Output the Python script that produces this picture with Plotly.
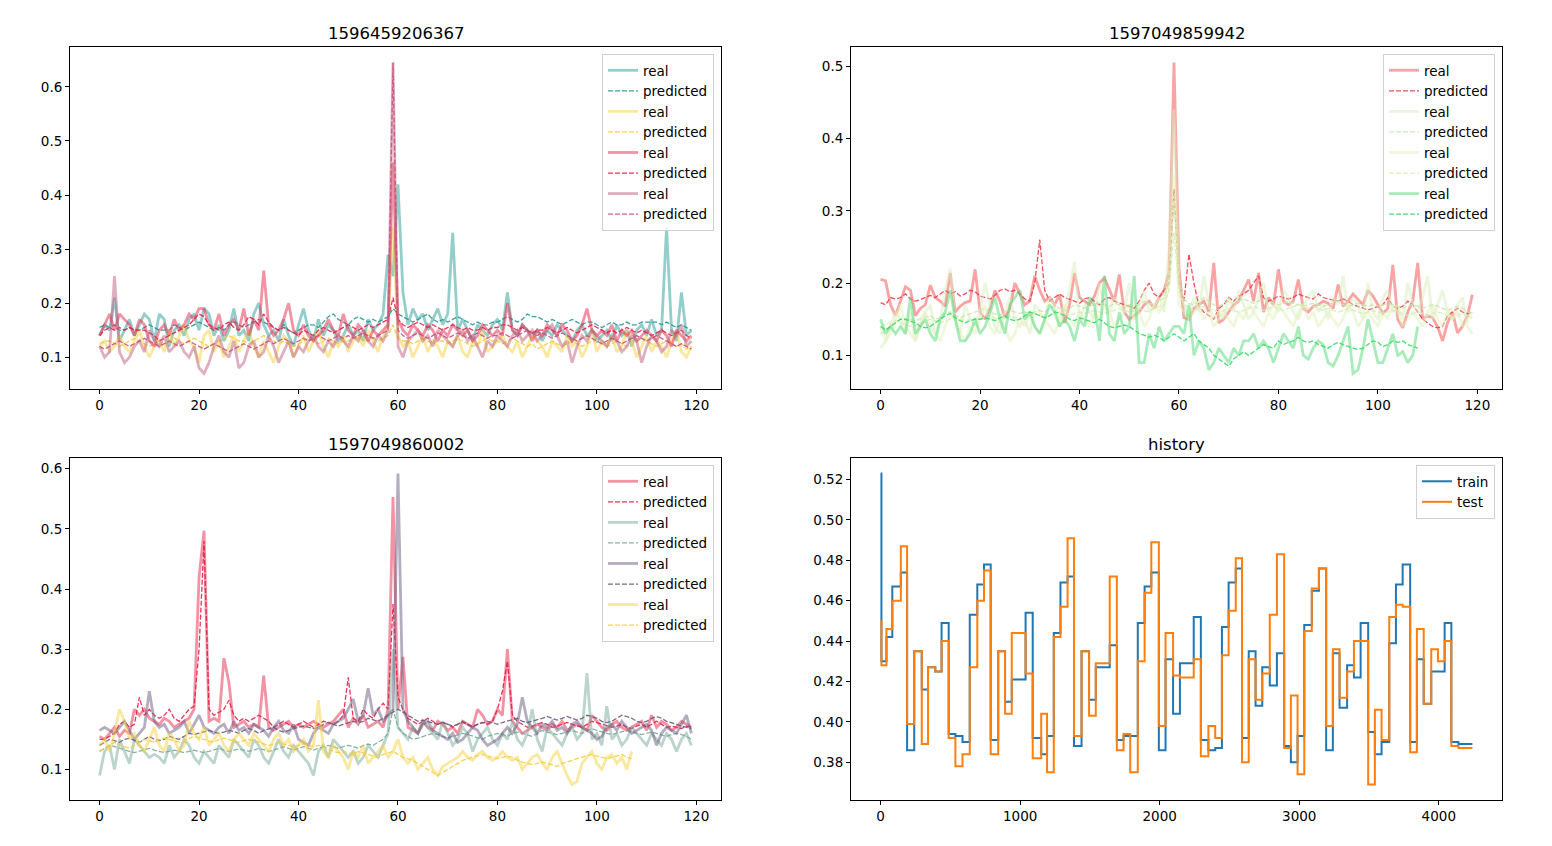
import plotly.graph_objects as go

# ---------------- data ----------------
idx120 = list(range(120))

# Panel 1: 1596459206367
p1_teal_real = [0.14,0.16,0.15,0.21,0.13,0.15,0.17,0.14,0.16,0.18,
0.17,0.13,0.18,0.17,0.12,0.15,0.16,0.14,0.17,0.18,
0.15,0.19,0.18,0.14,0.16,0.13,0.15,0.19,0.14,0.15,
0.13,0.18,0.20,0.16,0.14,0.15,0.13,0.17,0.14,0.12,
0.16,0.19,0.15,0.13,0.17,0.14,0.16,0.15,0.13,0.14,
0.16,0.14,0.15,0.13,0.17,0.15,0.16,0.18,0.29,0.25,
0.42,0.22,0.16,0.19,0.17,0.18,0.15,0.17,0.19,0.16,
0.18,0.33,0.15,0.17,0.15,0.13,0.16,0.15,0.14,0.16,
0.17,0.15,0.22,0.15,0.14,0.16,0.15,0.14,0.15,0.13,
0.15,0.14,0.16,0.15,0.14,0.13,0.15,0.16,0.14,0.15,
0.13,0.14,0.15,0.13,0.16,0.14,0.15,0.12,0.15,0.16,
0.14,0.17,0.14,0.15,0.34,0.15,0.13,0.22,0.14,0.15]
p1_teal_pred = [0.155,0.16,0.155,0.16,0.15,0.15,0.155,0.15,0.15,0.155,
0.16,0.155,0.15,0.15,0.15,0.16,0.155,0.15,0.155,0.16,
0.165,0.16,0.155,0.15,0.155,0.15,0.16,0.165,0.16,0.155,
0.16,0.165,0.17,0.165,0.16,0.155,0.15,0.16,0.15,0.145,
0.15,0.155,0.16,0.16,0.155,0.165,0.175,0.18,0.17,0.165,
0.16,0.17,0.175,0.17,0.165,0.17,0.165,0.17,0.175,0.19,
0.18,0.175,0.17,0.165,0.17,0.175,0.18,0.17,0.165,0.17,
0.165,0.17,0.175,0.17,0.165,0.16,0.165,0.16,0.16,0.165,
0.165,0.17,0.175,0.17,0.165,0.17,0.18,0.175,0.175,0.17,
0.165,0.17,0.165,0.16,0.165,0.17,0.165,0.16,0.165,0.165,
0.16,0.155,0.16,0.165,0.16,0.16,0.165,0.16,0.16,0.165,
0.165,0.165,0.165,0.16,0.165,0.16,0.155,0.16,0.155,0.15]
p1_yellow_real = [0.12,0.13,0.11,0.12,0.14,0.12,0.11,0.13,0.15,0.12,
0.10,0.12,0.13,0.11,0.15,0.12,0.14,0.16,0.13,0.12,
0.09,0.14,0.15,0.11,0.13,0.10,0.12,0.14,0.11,0.13,
0.15,0.12,0.10,0.13,0.11,0.09,0.12,0.14,0.13,0.10,
0.12,0.14,0.11,0.13,0.15,0.12,0.10,0.13,0.12,0.14,
0.11,0.13,0.14,0.12,0.15,0.13,0.11,0.14,0.16,0.34,
0.14,0.12,0.13,0.10,0.12,0.14,0.11,0.13,0.12,0.10,
0.13,0.12,0.14,0.11,0.10,0.13,0.12,0.15,0.11,0.12,
0.13,0.14,0.12,0.11,0.13,0.10,0.12,0.14,0.13,0.12,
0.10,0.13,0.12,0.11,0.14,0.12,0.13,0.10,0.12,0.15,
0.11,0.13,0.12,0.14,0.11,0.12,0.15,0.13,0.10,0.12,
0.14,0.11,0.13,0.12,0.10,0.13,0.15,0.11,0.10,0.12]
p1_yellow_pred = [0.125,0.13,0.13,0.125,0.12,0.125,0.13,0.135,0.13,0.125,
0.12,0.125,0.13,0.125,0.13,0.135,0.13,0.125,0.13,0.135,
0.13,0.125,0.12,0.125,0.13,0.135,0.14,0.135,0.13,0.13,
0.125,0.13,0.135,0.14,0.135,0.13,0.125,0.13,0.125,0.12,
0.125,0.13,0.135,0.13,0.125,0.13,0.135,0.13,0.125,0.13,
0.13,0.135,0.14,0.135,0.13,0.135,0.13,0.135,0.14,0.16,
0.135,0.13,0.13,0.125,0.13,0.135,0.13,0.125,0.13,0.13,
0.125,0.13,0.135,0.13,0.125,0.12,0.125,0.13,0.135,0.13,
0.13,0.125,0.13,0.135,0.13,0.125,0.12,0.125,0.115,0.12,
0.125,0.13,0.125,0.12,0.125,0.13,0.125,0.12,0.125,0.13,
0.13,0.125,0.12,0.125,0.13,0.125,0.12,0.125,0.13,0.135,
0.13,0.125,0.12,0.125,0.13,0.125,0.12,0.125,0.115,0.12]
p1_red_real = [0.14,0.16,0.18,0.15,0.18,0.17,0.16,0.14,0.17,0.16,
0.13,0.12,0.15,0.16,0.14,0.17,0.15,0.16,0.18,0.17,
0.19,0.19,0.16,0.15,0.18,0.14,0.16,0.17,0.15,0.19,
0.14,0.17,0.15,0.26,0.16,0.14,0.15,0.17,0.20,0.15,
0.14,0.16,0.14,0.13,0.14,0.15,0.17,0.15,0.14,0.18,
0.15,0.14,0.16,0.15,0.13,0.15,0.14,0.15,0.16,0.46,
0.17,0.15,0.14,0.16,0.15,0.14,0.16,0.15,0.13,0.15,
0.14,0.16,0.15,0.14,0.15,0.13,0.14,0.16,0.15,0.14,
0.15,0.14,0.20,0.15,0.14,0.16,0.15,0.13,0.15,0.14,
0.16,0.15,0.14,0.16,0.15,0.13,0.14,0.16,0.19,0.15,
0.14,0.15,0.14,0.16,0.13,0.15,0.14,0.15,0.13,0.14,
0.15,0.14,0.13,0.15,0.14,0.12,0.15,0.14,0.13,0.14]
p1_red_pred = [0.14,0.15,0.155,0.15,0.155,0.15,0.155,0.15,0.15,0.15,
0.145,0.14,0.13,0.135,0.14,0.145,0.15,0.155,0.16,0.17,
0.18,0.175,0.16,0.155,0.15,0.16,0.165,0.155,0.15,0.16,
0.175,0.17,0.16,0.18,0.165,0.155,0.15,0.155,0.15,0.145,
0.14,0.15,0.145,0.14,0.15,0.155,0.15,0.145,0.15,0.155,
0.16,0.155,0.15,0.155,0.16,0.155,0.16,0.165,0.17,0.21,
0.17,0.16,0.155,0.16,0.165,0.16,0.155,0.16,0.155,0.15,
0.155,0.16,0.155,0.15,0.155,0.15,0.15,0.155,0.15,0.155,
0.155,0.16,0.16,0.155,0.15,0.155,0.15,0.145,0.15,0.15,
0.155,0.15,0.145,0.15,0.155,0.15,0.145,0.15,0.155,0.16,
0.155,0.15,0.145,0.15,0.145,0.15,0.155,0.15,0.145,0.15,
0.145,0.14,0.145,0.15,0.145,0.14,0.145,0.15,0.14,0.135]
p1_mauve_real = [0.12,0.10,0.11,0.25,0.11,0.09,0.10,0.12,0.13,0.11,
0.15,0.13,0.12,0.14,0.11,0.12,0.13,0.11,0.10,0.12,
0.08,0.07,0.09,0.12,0.14,0.11,0.10,0.13,0.08,0.09,
0.12,0.13,0.10,0.11,0.14,0.12,0.09,0.11,0.13,0.10,
0.12,0.11,0.13,0.14,0.12,0.11,0.13,0.12,0.14,0.13,
0.12,0.14,0.13,0.15,0.13,0.12,0.14,0.13,0.15,0.645,
0.12,0.10,0.13,0.14,0.15,0.13,0.14,0.12,0.15,0.14,
0.13,0.12,0.14,0.15,0.13,0.14,0.12,0.10,0.13,0.12,
0.14,0.13,0.12,0.14,0.15,0.13,0.14,0.15,0.13,0.14,
0.15,0.16,0.14,0.12,0.13,0.09,0.12,0.14,0.13,0.15,
0.14,0.13,0.12,0.14,0.13,0.11,0.12,0.14,0.13,0.09,
0.12,0.14,0.13,0.11,0.12,0.15,0.14,0.16,0.12,0.13]
p1_mauve_pred = [0.12,0.115,0.12,0.125,0.13,0.125,0.12,0.125,0.13,0.135,
0.13,0.125,0.12,0.125,0.13,0.125,0.12,0.125,0.13,0.125,
0.12,0.115,0.12,0.125,0.12,0.115,0.11,0.115,0.12,0.125,
0.12,0.115,0.12,0.125,0.13,0.125,0.13,0.135,0.13,0.125,
0.13,0.135,0.13,0.135,0.14,0.135,0.13,0.135,0.14,0.135,
0.14,0.135,0.14,0.145,0.14,0.135,0.14,0.145,0.15,0.645,
0.15,0.14,0.135,0.14,0.145,0.14,0.135,0.14,0.145,0.14,
0.135,0.14,0.145,0.14,0.135,0.14,0.145,0.14,0.135,0.14,
0.14,0.145,0.14,0.135,0.14,0.145,0.15,0.145,0.14,0.145,
0.14,0.135,0.14,0.145,0.14,0.135,0.13,0.135,0.14,0.135,
0.13,0.125,0.13,0.135,0.13,0.125,0.13,0.135,0.14,0.135,
0.13,0.135,0.14,0.135,0.13,0.125,0.12,0.125,0.12,0.115]

# Panel 2: 1597049859942
p2_red_real = [0.205,0.203,0.17,0.155,0.175,0.195,0.19,0.155,0.165,0.17,
0.197,0.18,0.175,0.168,0.214,0.16,0.168,0.173,0.175,0.219,
0.16,0.15,0.165,0.19,0.175,0.152,0.165,0.2,0.185,0.17,
0.175,0.21,0.19,0.175,0.18,0.17,0.184,0.145,0.17,0.214,
0.18,0.175,0.17,0.182,0.2,0.207,0.19,0.175,0.212,0.16,
0.15,0.155,0.16,0.17,0.175,0.165,0.18,0.19,0.215,0.505,
0.22,0.152,0.15,0.165,0.17,0.175,0.16,0.228,0.145,0.15,
0.16,0.17,0.175,0.19,0.205,0.175,0.214,0.16,0.18,0.17,
0.219,0.175,0.17,0.175,0.205,0.165,0.16,0.168,0.17,0.175,
0.172,0.165,0.198,0.168,0.175,0.185,0.178,0.17,0.19,0.182,
0.17,0.158,0.165,0.225,0.15,0.138,0.16,0.175,0.228,0.15,
0.155,0.152,0.14,0.12,0.145,0.16,0.131,0.14,0.155,0.184]
p2_red_pred = [0.173,0.17,0.18,0.178,0.18,0.185,0.178,0.175,0.177,0.18,
0.183,0.18,0.185,0.19,0.185,0.188,0.182,0.185,0.19,0.188,
0.182,0.18,0.178,0.183,0.19,0.192,0.188,0.19,0.185,0.178,
0.175,0.2,0.26,0.19,0.175,0.18,0.185,0.18,0.178,0.175,
0.172,0.178,0.18,0.175,0.17,0.178,0.18,0.175,0.172,0.17,
0.168,0.165,0.175,0.19,0.2,0.185,0.18,0.19,0.2,0.33,
0.2,0.175,0.24,0.2,0.168,0.16,0.155,0.15,0.165,0.17,
0.18,0.175,0.182,0.185,0.19,0.2,0.21,0.18,0.175,0.178,
0.182,0.18,0.178,0.18,0.185,0.182,0.18,0.178,0.185,0.18,
0.178,0.176,0.175,0.178,0.175,0.17,0.168,0.165,0.163,0.165,
0.168,0.17,0.18,0.168,0.165,0.168,0.175,0.17,0.16,0.15,
0.145,0.14,0.138,0.14,0.155,0.16,0.165,0.16,0.158,0.16]
p2_light1_real = [0.11,0.12,0.14,0.16,0.15,0.13,0.16,0.12,0.14,0.16,
0.17,0.13,0.15,0.19,0.22,0.15,0.13,0.17,0.15,0.14,
0.16,0.2,0.17,0.14,0.13,0.16,0.18,0.15,0.14,0.15,
0.13,0.17,0.16,0.15,0.18,0.17,0.14,0.16,0.19,0.23,
0.15,0.17,0.16,0.15,0.2,0.17,0.16,0.18,0.17,0.16,
0.2,0.15,0.17,0.19,0.16,0.17,0.18,0.16,0.25,0.44,
0.2,0.17,0.15,0.18,0.16,0.21,0.17,0.15,0.16,0.15,
0.18,0.16,0.19,0.17,0.15,0.16,0.18,0.2,0.16,0.17,
0.16,0.19,0.18,0.16,0.15,0.17,0.18,0.19,0.16,0.17,
0.15,0.18,0.17,0.21,0.16,0.18,0.17,0.15,0.2,0.16,
0.15,0.18,0.19,0.16,0.17,0.15,0.2,0.17,0.16,0.18,
0.21,0.15,0.17,0.19,0.16,0.15,0.17,0.18,0.14,0.13]
p2_light1_pred = [0.13,0.135,0.14,0.145,0.15,0.148,0.15,0.148,0.15,0.152,
0.155,0.15,0.152,0.158,0.16,0.155,0.152,0.155,0.158,0.16,
0.162,0.165,0.16,0.158,0.155,0.16,0.162,0.16,0.158,0.16,
0.158,0.16,0.162,0.16,0.165,0.168,0.165,0.162,0.165,0.17,
0.168,0.165,0.168,0.17,0.172,0.17,0.168,0.172,0.17,0.168,
0.17,0.168,0.17,0.175,0.172,0.17,0.175,0.18,0.2,0.32,
0.2,0.178,0.172,0.17,0.175,0.18,0.175,0.17,0.168,0.172,
0.175,0.172,0.175,0.178,0.175,0.172,0.175,0.178,0.175,0.172,
0.17,0.172,0.175,0.172,0.17,0.168,0.17,0.172,0.17,0.168,
0.17,0.172,0.175,0.17,0.168,0.17,0.172,0.17,0.168,0.17,
0.168,0.17,0.172,0.17,0.168,0.165,0.168,0.17,0.168,0.165,
0.168,0.17,0.168,0.165,0.162,0.165,0.168,0.165,0.16,0.158]
p2_light2_real = [0.14,0.12,0.13,0.15,0.17,0.14,0.13,0.12,0.15,0.16,
0.14,0.13,0.12,0.14,0.16,0.15,0.13,0.12,0.14,0.13,
0.15,0.17,0.14,0.13,0.15,0.14,0.12,0.13,0.15,0.14,
0.16,0.14,0.13,0.15,0.14,0.13,0.15,0.17,0.15,0.14,
0.16,0.15,0.14,0.16,0.15,0.17,0.16,0.14,0.15,0.16,
0.17,0.15,0.16,0.14,0.15,0.17,0.16,0.17,0.2,0.35,
0.17,0.16,0.15,0.16,0.17,0.15,0.16,0.14,0.15,0.16,
0.15,0.14,0.16,0.15,0.17,0.16,0.15,0.14,0.16,0.15,
0.17,0.16,0.15,0.14,0.16,0.17,0.15,0.16,0.14,0.15,
0.16,0.15,0.14,0.15,0.17,0.16,0.14,0.15,0.16,0.15,
0.14,0.16,0.15,0.17,0.16,0.14,0.15,0.16,0.15,0.14,
0.16,0.17,0.15,0.14,0.16,0.15,0.16,0.14,0.15,0.16]
p2_light2_pred = [0.14,0.142,0.145,0.148,0.145,0.142,0.14,0.142,0.145,0.148,
0.15,0.148,0.145,0.148,0.15,0.152,0.15,0.148,0.15,0.152,
0.15,0.152,0.155,0.152,0.15,0.152,0.155,0.152,0.15,0.152,
0.155,0.158,0.155,0.152,0.155,0.158,0.16,0.158,0.155,0.158,
0.16,0.158,0.16,0.162,0.16,0.158,0.16,0.162,0.165,0.162,
0.16,0.162,0.165,0.162,0.16,0.165,0.168,0.17,0.19,0.27,
0.19,0.17,0.165,0.162,0.165,0.168,0.165,0.162,0.16,0.162,
0.165,0.162,0.16,0.162,0.165,0.168,0.165,0.162,0.165,0.168,
0.165,0.162,0.165,0.168,0.17,0.168,0.165,0.168,0.165,0.162,
0.165,0.162,0.16,0.162,0.165,0.162,0.16,0.158,0.16,0.162,
0.16,0.158,0.16,0.162,0.16,0.158,0.155,0.158,0.16,0.158,
0.155,0.158,0.16,0.158,0.155,0.152,0.155,0.158,0.155,0.152]
p2_green_real = [0.15,0.13,0.14,0.13,0.14,0.13,0.18,0.13,0.14,0.15,
0.13,0.12,0.15,0.16,0.19,0.15,0.12,0.12,0.13,0.15,
0.13,0.14,0.16,0.18,0.15,0.13,0.17,0.18,0.19,0.15,
0.16,0.14,0.13,0.15,0.17,0.16,0.14,0.15,0.14,0.12,
0.15,0.14,0.18,0.17,0.12,0.21,0.13,0.12,0.16,0.13,
0.14,0.21,0.09,0.09,0.13,0.11,0.14,0.12,0.13,0.14,
0.14,0.13,0.17,0.10,0.12,0.11,0.08,0.09,0.11,0.10,
0.09,0.11,0.10,0.12,0.12,0.13,0.11,0.12,0.11,0.09,
0.11,0.13,0.12,0.11,0.14,0.10,0.095,0.11,0.12,0.115,
0.09,0.085,0.10,0.12,0.14,0.075,0.08,0.11,0.15,0.12,
0.09,0.09,0.11,0.13,0.10,0.105,0.09,0.10,0.14]
p2_green_pred = [0.14,0.135,0.14,0.145,0.15,0.15,0.148,0.145,0.14,0.138,
0.14,0.145,0.15,0.155,0.158,0.152,0.148,0.145,0.148,0.15,
0.15,0.152,0.15,0.148,0.152,0.155,0.15,0.148,0.15,0.155,
0.16,0.158,0.155,0.152,0.155,0.16,0.158,0.155,0.15,0.148,
0.152,0.15,0.148,0.145,0.15,0.145,0.14,0.138,0.14,0.142,
0.14,0.135,0.13,0.128,0.125,0.128,0.125,0.12,0.125,0.13,
0.125,0.12,0.125,0.13,0.12,0.115,0.11,0.1,0.095,0.09,
0.085,0.095,0.1,0.105,0.1,0.105,0.11,0.115,0.112,0.11,
0.12,0.115,0.118,0.12,0.125,0.12,0.118,0.12,0.115,0.112,
0.11,0.115,0.118,0.115,0.112,0.11,0.108,0.11,0.115,0.12,
0.118,0.112,0.115,0.12,0.118,0.12,0.115,0.112,0.11]

# Panel 3: 1597049860002
p3_pink_real = [0.155,0.15,0.16,0.17,0.155,0.165,0.16,0.2,0.19,0.2,
0.185,0.18,0.175,0.185,0.18,0.17,0.175,0.18,0.185,0.2,
0.42,0.497,0.18,0.185,0.18,0.285,0.245,0.17,0.175,0.18,
0.17,0.175,0.17,0.256,0.17,0.165,0.17,0.175,0.18,0.17,
0.175,0.17,0.175,0.18,0.175,0.17,0.175,0.18,0.19,0.2,
0.17,0.185,0.175,0.19,0.17,0.175,0.18,0.17,0.2,0.553,
0.2,0.287,0.17,0.165,0.16,0.18,0.17,0.165,0.18,0.175,
0.165,0.17,0.16,0.18,0.175,0.17,0.2,0.19,0.175,0.18,
0.2,0.19,0.3,0.18,0.17,0.16,0.165,0.17,0.175,0.17,
0.165,0.175,0.17,0.18,0.165,0.17,0.175,0.17,0.165,0.19,
0.18,0.17,0.165,0.175,0.18,0.17,0.165,0.17,0.175,0.18,
0.165,0.19,0.17,0.18,0.175,0.165,0.17,0.18,0.175,0.17]
p3_pink_pred = [0.15,0.15,0.155,0.16,0.175,0.18,0.17,0.175,0.22,0.19,
0.2,0.19,0.185,0.19,0.2,0.185,0.18,0.19,0.2,0.205,
0.3,0.48,0.2,0.19,0.195,0.2,0.215,0.19,0.18,0.185,
0.18,0.185,0.19,0.185,0.18,0.17,0.175,0.18,0.175,0.17,
0.175,0.18,0.175,0.17,0.175,0.18,0.178,0.175,0.18,0.19,
0.253,0.185,0.18,0.2,0.19,0.185,0.2,0.21,0.2,0.375,
0.22,0.2,0.185,0.18,0.175,0.18,0.185,0.18,0.175,0.178,
0.175,0.17,0.175,0.18,0.175,0.17,0.175,0.178,0.175,0.18,
0.2,0.23,0.28,0.19,0.18,0.175,0.17,0.172,0.175,0.178,
0.175,0.17,0.172,0.175,0.178,0.175,0.172,0.17,0.175,0.18,
0.178,0.175,0.172,0.17,0.172,0.175,0.17,0.168,0.172,0.175,
0.17,0.175,0.18,0.175,0.17,0.172,0.17,0.168,0.172,0.17]
p3_sage_real = [0.09,0.13,0.14,0.1,0.15,0.13,0.11,0.15,0.14,0.13,
0.12,0.125,0.12,0.11,0.14,0.12,0.13,0.15,0.14,0.12,
0.11,0.13,0.12,0.11,0.14,0.13,0.12,0.15,0.14,0.13,
0.12,0.15,0.14,0.12,0.11,0.13,0.15,0.13,0.12,0.14,
0.13,0.12,0.11,0.09,0.13,0.14,0.12,0.15,0.14,0.13,
0.12,0.13,0.11,0.12,0.14,0.13,0.12,0.14,0.16,0.3,
0.17,0.16,0.15,0.17,0.16,0.18,0.17,0.16,0.15,0.18,
0.16,0.14,0.15,0.17,0.16,0.13,0.15,0.16,0.17,0.15,
0.14,0.16,0.15,0.18,0.15,0.14,0.16,0.2,0.15,0.13,
0.17,0.16,0.15,0.14,0.16,0.17,0.15,0.16,0.26,0.15,
0.16,0.14,0.205,0.15,0.16,0.14,0.15,0.17,0.16,0.15,
0.14,0.16,0.15,0.14,0.16,0.15,0.13,0.15,0.16,0.14]
p3_sage_pred = [0.13,0.135,0.14,0.138,0.135,0.132,0.13,0.128,0.13,0.132,
0.135,0.132,0.13,0.128,0.13,0.132,0.13,0.128,0.13,0.132,
0.13,0.128,0.13,0.132,0.135,0.132,0.13,0.132,0.134,0.132,
0.13,0.132,0.135,0.133,0.13,0.132,0.135,0.138,0.135,0.132,
0.135,0.138,0.135,0.132,0.135,0.138,0.14,0.138,0.135,0.138,
0.14,0.138,0.135,0.14,0.142,0.14,0.145,0.15,0.16,0.2,
0.17,0.16,0.155,0.15,0.152,0.155,0.158,0.16,0.158,0.155,
0.152,0.155,0.158,0.16,0.158,0.155,0.152,0.15,0.155,0.158,
0.16,0.158,0.155,0.16,0.162,0.16,0.158,0.155,0.16,0.165,
0.162,0.16,0.158,0.16,0.162,0.165,0.162,0.16,0.165,0.168,
0.165,0.162,0.16,0.158,0.16,0.162,0.165,0.162,0.16,0.158,
0.16,0.162,0.16,0.158,0.155,0.158,0.16,0.158,0.155,0.15]
p3_purple_real = [0.165,0.17,0.165,0.16,0.17,0.18,0.165,0.15,0.16,0.17,
0.23,0.18,0.17,0.175,0.16,0.165,0.17,0.18,0.16,0.175,
0.19,0.17,0.165,0.16,0.17,0.175,0.16,0.18,0.165,0.17,
0.16,0.175,0.17,0.165,0.155,0.17,0.18,0.165,0.16,0.175,
0.15,0.145,0.14,0.16,0.17,0.165,0.16,0.175,0.18,0.185,
0.2,0.217,0.18,0.19,0.235,0.19,0.2,0.18,0.19,0.2,
0.592,0.2,0.18,0.17,0.16,0.175,0.18,0.165,0.16,0.155,
0.15,0.16,0.145,0.15,0.16,0.17,0.165,0.15,0.14,0.145,
0.15,0.16,0.17,0.16,0.175,0.22,0.18,0.17,0.16,0.175,
0.17,0.18,0.165,0.17,0.16,0.175,0.18,0.17,0.165,0.16,
0.15,0.155,0.17,0.175,0.165,0.18,0.17,0.16,0.165,0.17,
0.175,0.165,0.14,0.16,0.17,0.165,0.16,0.175,0.19,0.16]
p3_purple_pred = [0.14,0.145,0.15,0.148,0.145,0.15,0.152,0.148,0.145,0.15,
0.155,0.15,0.148,0.15,0.155,0.152,0.15,0.155,0.16,0.158,
0.16,0.162,0.165,0.162,0.16,0.162,0.165,0.163,0.16,0.165,
0.168,0.165,0.16,0.165,0.168,0.17,0.165,0.162,0.165,0.168,
0.17,0.172,0.17,0.168,0.17,0.175,0.178,0.175,0.172,0.175,
0.178,0.18,0.178,0.18,0.185,0.182,0.18,0.185,0.19,0.195,
0.2,0.195,0.19,0.185,0.18,0.182,0.18,0.178,0.175,0.178,
0.175,0.172,0.175,0.178,0.175,0.172,0.175,0.178,0.18,0.178,
0.175,0.178,0.18,0.182,0.185,0.18,0.178,0.18,0.182,0.185,
0.188,0.185,0.182,0.185,0.188,0.185,0.182,0.185,0.19,0.188,
0.185,0.18,0.178,0.18,0.185,0.19,0.188,0.185,0.18,0.178,
0.18,0.185,0.188,0.185,0.18,0.178,0.175,0.172,0.17,0.168]
p3_yellow_real = [0.14,0.15,0.13,0.16,0.2,0.18,0.15,0.16,0.14,0.13,
0.15,0.17,0.14,0.13,0.16,0.15,0.13,0.14,0.18,0.16,
0.15,0.17,0.14,0.15,0.16,0.14,0.13,0.15,0.16,0.15,
0.14,0.16,0.15,0.14,0.13,0.15,0.16,0.14,0.15,0.13,
0.14,0.15,0.13,0.14,0.215,0.13,0.12,0.14,0.13,0.12,
0.1,0.13,0.12,0.14,0.11,0.12,0.13,0.14,0.12,0.13,
0.15,0.12,0.11,0.12,0.1,0.11,0.12,0.1,0.09,0.105,
0.11,0.115,0.12,0.13,0.12,0.115,0.125,0.13,0.12,0.115,
0.12,0.13,0.12,0.115,0.12,0.1,0.11,0.12,0.125,0.11,
0.1,0.12,0.13,0.11,0.09,0.075,0.08,0.11,0.12,0.13,
0.11,0.1,0.12,0.125,0.11,0.12,0.1,0.13]
p3_yellow_pred = [0.13,0.135,0.14,0.145,0.14,0.138,0.135,0.14,0.145,0.15,
0.148,0.145,0.15,0.152,0.15,0.148,0.145,0.148,0.152,0.155,
0.152,0.15,0.148,0.145,0.15,0.152,0.15,0.148,0.145,0.148,
0.15,0.148,0.145,0.142,0.14,0.142,0.145,0.142,0.14,0.138,
0.14,0.142,0.14,0.138,0.14,0.138,0.135,0.13,0.128,0.13,
0.128,0.125,0.13,0.128,0.125,0.122,0.12,0.125,0.128,0.13,
0.125,0.12,0.118,0.115,0.11,0.105,0.1,0.095,0.09,0.095,
0.1,0.105,0.11,0.115,0.118,0.12,0.122,0.125,0.122,0.12,
0.118,0.12,0.122,0.12,0.115,0.112,0.11,0.108,0.11,0.112,
0.11,0.108,0.105,0.11,0.112,0.115,0.118,0.12,0.122,0.125,
0.122,0.12,0.118,0.12,0.122,0.125,0.12,0.118]

# Panel 4: history (step levels at epoch boundaries)
hist_epoch = [0,6,42,84,145,190,241,295,340,392,437,488,536,587,639,693,741,789,843,892,
940,1039,1090,1151,1193,1241,1289,1340,1386,1440,1494,1542,1642,1693,1741,1789,1843,1892,1940,1994,
2042,2096,2145,2244,2295,2349,2398,2446,2494,2545,2590,2638,2687,2735,2789,2840,2892,2940,2988,3036,
3090,3141,3193,3241,3289,3343,3392,3440,3494,3542,3590,3645,3693,3741,3795,3843,3892,3946,3994,4042,
4090,4141,4241]
hist_train = [0.523,0.430,0.442,0.467,0.474,0.386,0.435,0.416,0.427,0.425,
0.449,0.394,0.393,0.390,0.453,0.468,0.478,0.391,0.435,0.410,
0.421,0.454,0.392,0.384,0.393,0.444,0.469,0.472,0.388,0.435,
0.411,0.427,0.438,0.391,0.393,0.393,0.449,0.467,0.474,0.386,
0.431,0.404,0.429,0.452,0.391,0.386,0.387,0.447,0.469,0.476,
0.392,0.435,0.408,0.427,0.418,0.434,0.388,0.380,0.393,0.448,
0.465,0.476,0.386,0.434,0.407,0.428,0.422,0.449,0.395,0.384,
0.390,0.439,0.468,0.478,0.390,0.431,0.409,0.425,0.425,0.449,
0.390,0.389,0.389]
hist_test = [0.450,0.428,0.446,0.460,0.487,0.399,0.435,0.389,0.427,0.425,
0.440,0.392,0.378,0.384,0.427,0.460,0.475,0.384,0.435,0.404,
0.444,0.424,0.382,0.404,0.375,0.442,0.457,0.491,0.393,0.435,
0.403,0.429,0.472,0.386,0.394,0.375,0.430,0.464,0.489,0.398,
0.444,0.423,0.422,0.431,0.383,0.398,0.392,0.433,0.455,0.481,
0.380,0.431,0.411,0.424,0.453,0.483,0.387,0.413,0.374,0.445,
0.466,0.476,0.398,0.436,0.412,0.425,0.440,0.440,0.369,0.406,
0.391,0.452,0.458,0.457,0.385,0.446,0.409,0.436,0.430,0.440,
0.388,0.387,0.387]

titles = ["1596459206367", "1597049859942", "1597049860002", "history"]

# ---------------- styles ----------------
W, H = 1552, 846
FONT = "DejaVu Sans"

def rgba(c, a):
    return "rgba(%d,%d,%d,%.2f)" % (c[0], c[1], c[2], a)

panels = [
    ("x", "y", "legend", [
        (p1_teal_real, p1_teal_pred, (42, 157, 150), (40, 150, 150)),
        (p1_yellow_real, p1_yellow_pred, (245, 210, 63), (245, 205, 60)),
        (p1_red_real, p1_red_pred, (232, 37, 74), (232, 30, 70)),
        (p1_mauve_real, p1_mauve_pred, (192, 96, 128), (200, 80, 125)),
    ]),
    ("x2", "y2", "legend2", [
        (p2_red_real, p2_red_pred, (243, 71, 71), (240, 60, 70)),
        (p2_light1_real, p2_light1_pred, (218, 238, 190), (200, 232, 170)),
        (p2_light2_real, p2_light2_pred, (226, 242, 186), (214, 238, 180)),
        (p2_green_real, p2_green_pred, (81, 217, 121), (50, 220, 100)),
    ]),
    ("x3", "y3", "legend3", [
        (p3_pink_real, p3_pink_pred, (232, 37, 74), (232, 30, 70)),
        (p3_sage_real, p3_sage_pred, (122, 171, 154), (122, 171, 154)),
        (p3_purple_real, p3_purple_pred, (106, 90, 128), (106, 90, 128)),
        (p3_yellow_real, p3_yellow_pred, (245, 210, 63), (245, 205, 60)),
    ]),
]

fig = go.Figure()
for xa, ya, lg, series in panels:
    for real, pred, creal, cpred in series:
        fig.add_trace(go.Scatter(x=idx120[:len(real)], y=real, mode="lines", name="real",
                                 xaxis=xa, yaxis=ya, legend=lg,
                                 line=dict(color=rgba(creal, 0.5), width=2.8)))
        fig.add_trace(go.Scatter(x=idx120[:len(pred)], y=pred, mode="lines", name="predicted",
                                 xaxis=xa, yaxis=ya, legend=lg,
                                 line=dict(color=rgba(cpred, 0.9), width=1.3, dash="5px,2px")))

fig.add_trace(go.Scatter(x=hist_epoch, y=hist_train, mode="lines", name="train", line_shape="hv",
                         xaxis="x4", yaxis="y4", legend="legend4",
                         line=dict(color="#1f77b4", width=2)))
fig.add_trace(go.Scatter(x=hist_epoch, y=hist_test, mode="lines", name="test", line_shape="hv",
                         xaxis="x4", yaxis="y4", legend="legend4",
                         line=dict(color="#ff7f0e", width=2)))

# axes geometry (pixels -> paper fractions)
boxes = [(70, 721, 47, 389), (851, 1502, 47, 389), (70, 721, 458, 800), (851, 1502, 458, 800)]

def yrange(arrs):
    lo = min(min(a) for a in arrs)
    hi = max(max(a) for a in arrs)
    p = 0.05 * (hi - lo)
    return [lo - p, hi + p]

yr = [
    yrange([s for pair in panels[0][3] for s in pair[:2]]),
    yrange([s for pair in panels[1][3] for s in pair[:2]]),
    yrange([s for pair in panels[2][3] for s in pair[:2]]),
    yrange([hist_train, hist_test]),
]
xr = [[-0.05 * 119, 1.05 * 119]] * 3 + [[-0.05 * hist_epoch[-1], 1.05 * hist_epoch[-1]]]

axis_common = dict(showline=True, mirror=True, linecolor="black", linewidth=1,
                   ticks="outside", ticklen=4, tickcolor="black", tickwidth=1,
                   showgrid=False, zeroline=False,
                   tickfont=dict(family=FONT, size=13.5, color="black"))

layout = dict(width=W, height=H, margin=dict(l=0, r=0, t=0, b=0),
              paper_bgcolor="white", plot_bgcolor="white",
              font=dict(family=FONT, color="black"), annotations=[])

for i, (x0, x1, y0, y1) in enumerate(boxes):
    sfx = "" if i == 0 else str(i + 1)
    xdom = [x0 / W, x1 / W]
    ydom = [1 - y1 / H, 1 - y0 / H]
    xa = dict(axis_common, domain=xdom, range=xr[i], anchor="y" + sfx)
    ya = dict(axis_common, domain=ydom, range=yr[i], anchor="x" + sfx)
    if i < 3:
        xa.update(tickmode="array", tickvals=[0, 20, 40, 60, 80, 100, 120])
        ya.update(dtick=0.1, tick0=0, tickformat=".1f")
    else:
        xa.update(tickmode="array", tickvals=[0, 1000, 2000, 3000, 4000])
        ya.update(dtick=0.02, tick0=0, tickformat=".2f")
    layout["xaxis" + sfx] = xa
    layout["yaxis" + sfx] = ya
    layout["annotations"].append(dict(text=titles[i], x=(x0 + x1) / 2 / W, y=1 - (y0 - 14) / H,
                                      xref="paper", yref="paper", xanchor="center", yanchor="middle",
                                      showarrow=False, font=dict(family=FONT, size=16.5, color="black")))
    lname = "legend" + sfx
    layout[lname] = dict(x=(x1 - 7) / W, y=1 - (y0 + 7) / H, xanchor="right", yanchor="top",
                         xref="paper", yref="paper", bgcolor="rgba(255,255,255,0.8)",
                         bordercolor="#d0d0d0", borderwidth=1,
                         font=dict(family=FONT, size=13.5, color="black"), tracegroupgap=0)

fig.update_layout(**layout)
fig.write_html("out.html", config={"displayModeBar": False},
               post_script="document.body.style.margin='0';document.body.style.overflow='hidden';")
